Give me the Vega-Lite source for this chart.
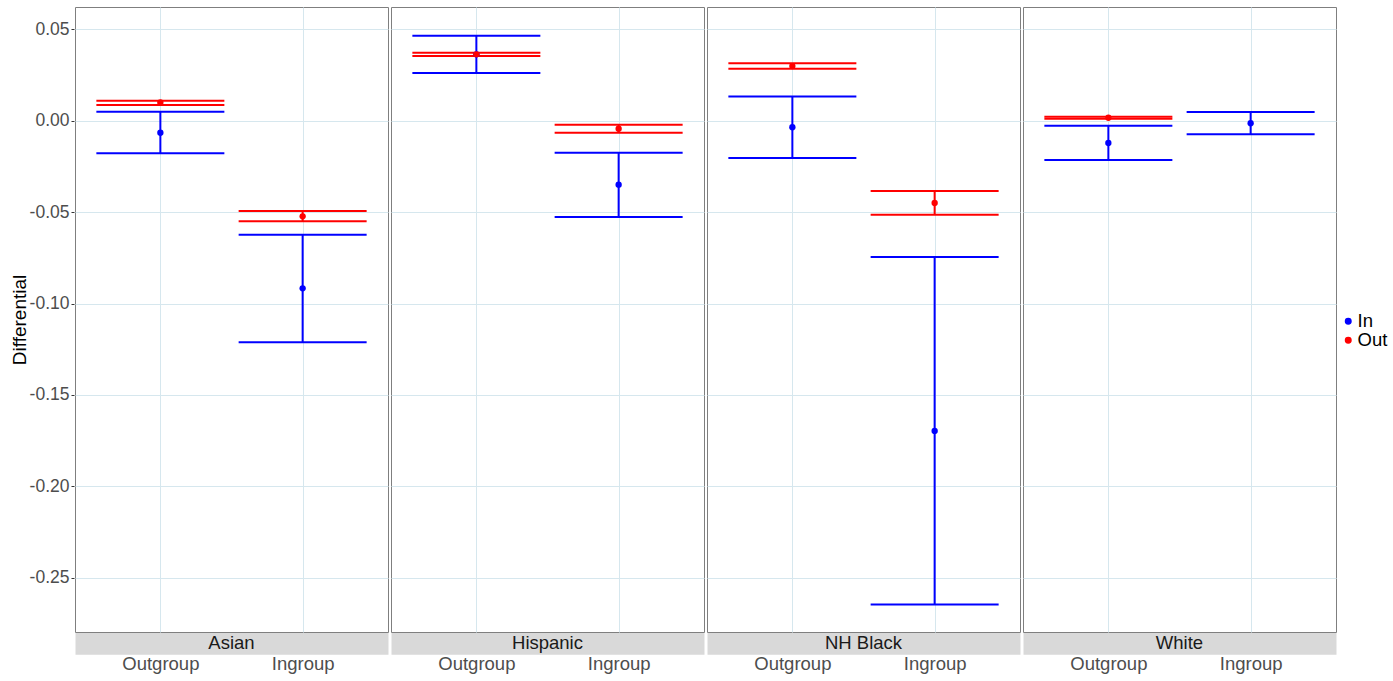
{
  "$schema": "https://vega.github.io/schema/vega-lite/v6.json",
  "background": "white",
  "padding": {"left": 10, "top": 6, "right": 5, "bottom": 5},
  "data": {"values": [
    {"race": "Asian", "cond": "Outgroup", "type": "In", "est": -0.0066, "lo": -0.0178, "hi": 0.0049},
    {"race": "Asian", "cond": "Outgroup", "type": "Out", "est": 0.0100, "lo": 0.0086, "hi": 0.0109},
    {"race": "Asian", "cond": "Ingroup", "type": "In", "est": -0.0917, "lo": -0.1212, "hi": -0.0624},
    {"race": "Asian", "cond": "Ingroup", "type": "Out", "est": -0.0523, "lo": -0.0550, "hi": -0.0494},
    {"race": "Hispanic", "cond": "Outgroup", "type": "In", "est": 0.0363, "lo": 0.0261, "hi": 0.0465},
    {"race": "Hispanic", "cond": "Outgroup", "type": "Out", "est": 0.0363, "lo": 0.0354, "hi": 0.0372},
    {"race": "Hispanic", "cond": "Ingroup", "type": "In", "est": -0.0350, "lo": -0.0527, "hi": -0.0175},
    {"race": "Hispanic", "cond": "Ingroup", "type": "Out", "est": -0.0044, "lo": -0.0066, "hi": -0.0022},
    {"race": "NH Black", "cond": "Outgroup", "type": "In", "est": -0.0036, "lo": -0.0204, "hi": 0.0133},
    {"race": "NH Black", "cond": "Outgroup", "type": "Out", "est": 0.0299, "lo": 0.0284, "hi": 0.0314},
    {"race": "NH Black", "cond": "Ingroup", "type": "In", "est": -0.1697, "lo": -0.2646, "hi": -0.0746},
    {"race": "NH Black", "cond": "Ingroup", "type": "Out", "est": -0.0450, "lo": -0.0514, "hi": -0.0385},
    {"race": "White", "cond": "Outgroup", "type": "In", "est": -0.0122, "lo": -0.0215, "hi": -0.0027},
    {"race": "White", "cond": "Outgroup", "type": "Out", "est": 0.0016, "lo": 0.0010, "hi": 0.0022},
    {"race": "White", "cond": "Ingroup", "type": "In", "est": -0.0014, "lo": -0.0074, "hi": 0.0048}
  ]},
  "facet": {
    "column": {
      "field": "race",
      "type": "nominal",
      "sort": ["Asian", "Hispanic", "NH Black", "White"],
      "title": null,
      "header": {
        "labelOrient": "bottom",
        "labelPadding": -39,
        "labelFont": "Liberation Sans",
        "labelFontSize": 18.5,
        "labelColor": "#1a1a1a"
      }
    }
  },
  "spacing": 1,
  "spec": {
    "width": 313,
    "height": 625,
    "encoding": {
      "x": {
        "field": "cond",
        "type": "nominal",
        "sort": ["Outgroup", "Ingroup"],
        "scale": {"type": "point", "padding": 0.6},
        "axis": {
          "title": null,
          "labelAngle": 0,
          "ticks": false,
          "domain": true,
          "domainColor": "#d9d9d9",
          "domainWidth": 22,
          "offset": 5.25,
          "labelPadding": 11,
          "labelFont": "Liberation Sans",
          "labelFontSize": 18.5,
          "labelColor": "#4d4d4d",
          "grid": true,
          "gridColor": "#d6e7ee",
          "gridWidth": 1
        }
      }
    },
    "layer": [
      {
        "mark": {"type": "rule", "strokeWidth": 2},
        "encoding": {
          "y": {
            "field": "lo",
            "type": "quantitative",
            "scale": {"domain": [-0.2797, 0.0622], "nice": false, "zero": false},
            "axis": {
              "title": "Differential",
              "values": [-0.25, -0.2, -0.15, -0.1, -0.05, 0, 0.05],
              "format": ".2f",
              "labelFont": "Liberation Sans",
              "labelFontSize": 17.5,
              "labelColor": "#4d4d4d",
              "titleFont": "Liberation Sans",
              "titleFontSize": 19,
              "titleFontWeight": "normal",
              "titleColor": "#000000",
              "titlePadding": 0,
              "tickSize": 3,
              "tickColor": "#333333",
              "labelPadding": 2,
              "domain": false,
              "grid": true,
              "gridColor": "#d6e7ee",
              "gridWidth": 1
            }
          },
          "y2": {"field": "hi"},
          "color": {"field": "type", "type": "nominal",
                    "scale": {"domain": ["In", "Out"], "range": ["#0000ff", "#ff0000"]}}
        }
      },
      {
        "mark": {"type": "tick", "orient": "horizontal", "size": 128, "thickness": 2, "opacity": 1},
        "encoding": {
          "y": {"field": "lo", "type": "quantitative"},
          "color": {"field": "type", "type": "nominal"}
        }
      },
      {
        "mark": {"type": "tick", "orient": "horizontal", "size": 128, "thickness": 2, "opacity": 1},
        "encoding": {
          "y": {"field": "hi", "type": "quantitative"},
          "color": {"field": "type", "type": "nominal"}
        }
      },
      {
        "mark": {"type": "point", "filled": true, "opacity": 1, "size": 40, "shape": "circle"},
        "encoding": {
          "y": {"field": "est", "type": "quantitative"},
          "color": {"field": "type", "type": "nominal"}
        }
      },
      {
        "mark": {"type": "rule", "color": "#ff0000", "strokeWidth": 2},
        "encoding": {"y": {"datum": 0}}
      }
    ]
  },
  "config": {
    "locale": {"number": {"decimal": ".", "thousands": ",", "grouping": [3], "currency": ["$", ""], "minus": "-"}},
    "view": {"stroke": "#7f7f7f", "strokeWidth": 1},
    "font": "Liberation Sans",
    "legend": {
      "title": null,
      "orient": "none",
      "legendX": 1264,
      "legendY": 305,
      "padding": 0,
      "symbolType": "circle",
      "symbolSize": 30,
      "labelFont": "Liberation Sans",
      "labelFontSize": 18.5,
      "labelColor": "#000000",
      "labelOffset": 0,
      "rowPadding": 0
    }
  }
}
